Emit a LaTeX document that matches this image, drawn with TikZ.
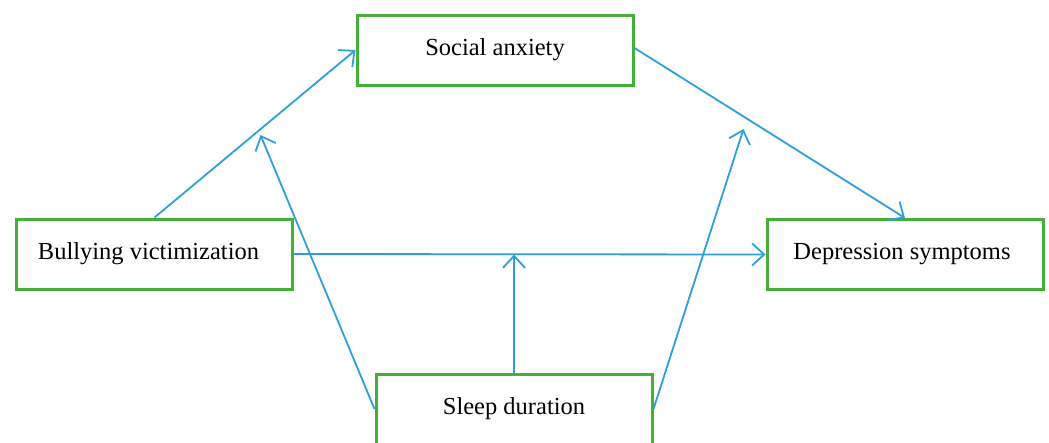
\documentclass[tikz,border=0pt]{standalone}
\usepackage{fontspec}
\setmainfont{Liberation Serif}
\usetikzlibrary{arrows.meta, positioning, calc}
\definecolor{mgreen}{HTML}{45B038}
\definecolor{mblue}{HTML}{2E9FD9}
\tikzset{
  varbox/.style={draw=mgreen, line width=3pt, fill=white, minimum width=276pt,
                 minimum height=70pt, font=\fontsize{24.5}{28}\selectfont, inner sep=0pt},
  arr/.style={-{Straight Barb[length=12pt, width=22pt, line width=1.8pt]}, line width=1.8pt, mblue},
}
\begin{document}
\begin{tikzpicture}[x=1pt, y=-1pt]
  \useasboundingbox (0,0) rectangle (1049,442);

  % Variables
  \node[varbox] (sa) at (495, 50) {Social anxiety};
  \node[varbox] (bv) at (154.5, 254) {\hspace*{-12pt}Bullying victimization};
  \node[varbox] (ds) at (905, 254.5) {\hspace*{-6pt}Depression symptoms};
  \node[varbox] (sd) at (514, 409) {Sleep duration};

  % Moderation targets
  \coordinate (mA) at (260.5, 135);
  \coordinate (mB) at (514, 254.5);
  \coordinate (mC) at (743.5, 129);

  % Paths
  \draw[arr] (bv.north) -- (sa.west);
  \draw[arr] ([yshift=2pt]sa.east) -- (ds.north);
  \draw[arr] (bv.east) -- (ds.west);

  % Moderation
  \draw[arr] (sd.north) -- (mB);
  \draw[arr] (sd.west) -- (mA);
  \draw[arr] (sd.east) -- (mC);
\end{tikzpicture}
\end{document}
